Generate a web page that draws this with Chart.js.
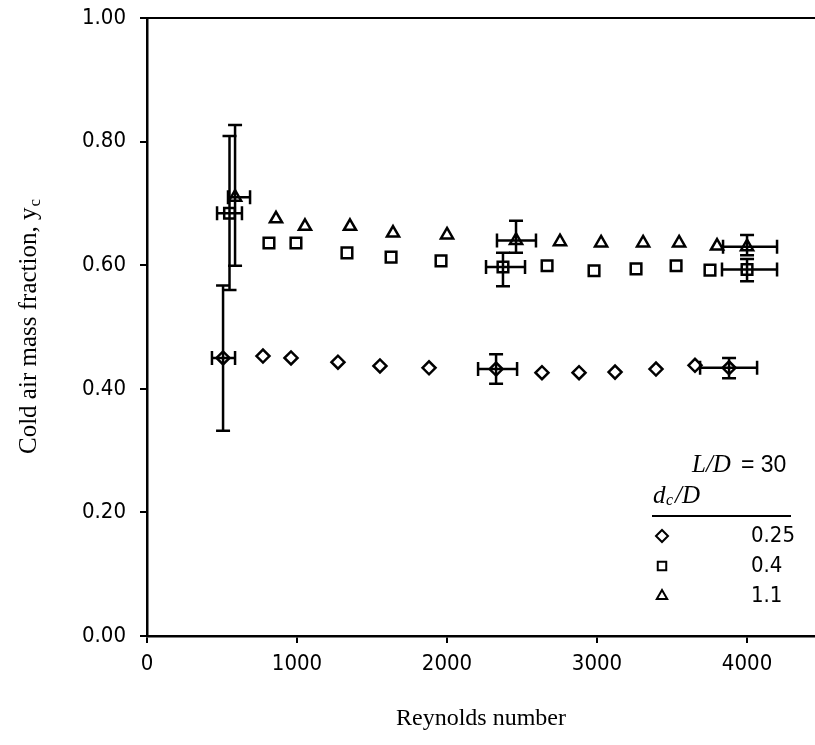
<!DOCTYPE html>
<html>
<head>
<meta charset="utf-8">
<script src="https://cdn.jsdelivr.net/npm/chart.js@4.4.0/dist/chart.umd.min.js"></script>
<style>
  html, body { margin: 0; padding: 0; background: #fff; }
  #wrap { width: 815px; height: 745px; position: relative; }
</style>
</head>
<body>
<div id="wrap"><canvas id="chart"></canvas></div>
<script>
// d_c/D = 0.25 (diamonds)
const diaRe = [507, 773, 960, 1273, 1553, 1880, 2327, 2633, 2880, 3120, 3393, 3653, 3880];
const diaYc = [0.450, 0.453, 0.450, 0.443, 0.437, 0.434, 0.432, 0.426, 0.426, 0.427, 0.432, 0.438, 0.434];
// d_c/D = 0.4 (squares)
const sqRe = [550, 813, 993, 1333, 1627, 1960, 2373, 2667, 2980, 3260, 3527, 3753, 4000];
const sqYc = [0.684, 0.636, 0.636, 0.620, 0.613, 0.607, 0.597, 0.599, 0.591, 0.594, 0.599, 0.592, 0.593];
// d_c/D = 1.1 (triangles)
const triRe = [587, 860, 1053, 1353, 1640, 2000, 2460, 2753, 3027, 3307, 3547, 3800, 4000];
const triYc = [0.710, 0.675, 0.663, 0.663, 0.652, 0.649, 0.640, 0.638, 0.636, 0.636, 0.636, 0.631, 0.630];

// error bars: centre, Re range, yc range
const diaErrRe = [507, 2327, 3880];
const diaErrYc = [0.450, 0.432, 0.434];
const diaErrReLo = [433, 2207, 3687];
const diaErrReHi = [587, 2467, 4067];
const diaErrYcLo = [0.332, 0.408, 0.417];
const diaErrYcHi = [0.567, 0.456, 0.450];

const sqErrRe = [550, 2373, 4000];
const sqErrYc = [0.684, 0.597, 0.593];
const sqErrReLo = [467, 2260, 3833];
const sqErrReHi = [633, 2520, 4200];
const sqErrYcLo = [0.560, 0.566, 0.574];
const sqErrYcHi = [0.809, 0.620, 0.610];

const triErrRe = [587, 2460, 4000];
const triErrYc = [0.710, 0.640, 0.630];
const triErrReLo = [540, 2333, 3840];
const triErrReHi = [687, 2593, 4200];
const triErrYcLo = [0.599, 0.620, 0.616];
const triErrYcHi = [0.827, 0.672, 0.649];

const xTicks = [0, 1000, 2000, 3000, 4000];
const yTicks = [0, 0.2, 0.4, 0.6, 0.8, 1.0];
const legendLabels = ['0.25', '0.4', '1.1'];
const legendStyles = ['rectRot', 'rect', 'triangle'];

const toPts = (xs, ys) => xs.map((x, i) => ({ x: x, y: ys[i] }));

const errSets = [
    { re: diaErrRe, yc: diaErrYc, reLo: diaErrReLo, reHi: diaErrReHi, ycLo: diaErrYcLo, ycHi: diaErrYcHi },
    { re: sqErrRe, yc: sqErrYc, reLo: sqErrReLo, reHi: sqErrReHi, ycLo: sqErrYcLo, ycHi: sqErrYcHi },
    { re: triErrRe, yc: triErrYc, reLo: triErrReLo, reHi: triErrReHi, ycLo: triErrYcLo, ycHi: triErrYcHi },
];

const tickFont = { family: '"Liberation Sans Narrow", "DejaVu Sans Condensed", Arial', size: 22 };
const serif = '"Liberation Serif", "DejaVu Serif", serif';

// error bars + frame line on top + axis title with subscript + legend
const extras = {
    id: 'extras',
    afterDatasetsDraw(chart) {
        const { ctx, chartArea, scales: { x, y } } = chart;
        ctx.save();
        ctx.strokeStyle = '#000';
        ctx.lineWidth = 2.5;
        const cap = 7;
        errSets.forEach(s => {
            s.re.forEach((re, i) => {
                const px = x.getPixelForValue(re);
                const py = y.getPixelForValue(s.yc[i]);
                const x0 = x.getPixelForValue(s.reLo[i]);
                const x1 = x.getPixelForValue(s.reHi[i]);
                const y0 = y.getPixelForValue(s.ycLo[i]);
                const y1 = y.getPixelForValue(s.ycHi[i]);
                ctx.beginPath();
                ctx.moveTo(x0, py); ctx.lineTo(x1, py);
                ctx.moveTo(x0, py - cap); ctx.lineTo(x0, py + cap);
                ctx.moveTo(x1, py - cap); ctx.lineTo(x1, py + cap);
                ctx.moveTo(px, y0); ctx.lineTo(px, y1);
                ctx.moveTo(px - cap, y0); ctx.lineTo(px + cap, y0);
                ctx.moveTo(px - cap, y1); ctx.lineTo(px + cap, y1);
                ctx.stroke();
            });
        });

        // top frame line
        ctx.lineWidth = 2;
        ctx.beginPath();
        ctx.moveTo(chartArea.left - 7, chartArea.top);
        ctx.lineTo(chart.width, chartArea.top);
        ctx.stroke();

        // y axis title
        ctx.fillStyle = '#000';
        ctx.translate(29, (chartArea.top + chartArea.bottom) / 2);
        ctx.rotate(-Math.PI / 2);
        ctx.textBaseline = 'middle';
        const main = 'Cold air mass fraction, y';
        ctx.font = '25px ' + serif;
        const w1 = ctx.measureText(main).width;
        ctx.font = '17px ' + serif;
        const w2 = ctx.measureText('c').width;
        const start = -(w1 + w2) / 2;
        ctx.font = '25px ' + serif;
        ctx.textAlign = 'left';
        ctx.fillText(main, start, 0);
        ctx.font = '17px ' + serif;
        ctx.fillText('c', start + w1 + 1, 7);
        ctx.restore();

        // legend
        ctx.save();
        ctx.fillStyle = '#000';
        ctx.textBaseline = 'middle';
        ctx.textAlign = 'left';
        ctx.font = 'italic 25px ' + serif;
        ctx.fillText('L/D', 692, 465);
        ctx.font = '23px "Liberation Sans", Arial';
        ctx.fillText('= 30', 741, 466);
        ctx.font = 'italic 25px ' + serif;
        ctx.fillText('d', 653, 496);
        ctx.font = 'italic 16px ' + serif;
        ctx.fillText('c', 666, 501);
        ctx.font = 'italic 25px ' + serif;
        ctx.fillText('/D', 675, 496);
        ctx.lineWidth = 2;
        ctx.beginPath();
        ctx.moveTo(652, 516); ctx.lineTo(791, 516);
        ctx.stroke();
        legendLabels.forEach((lab, i) => {
            const ly = 536 + i * 30;
            ctx.lineWidth = 2;
            ctx.strokeStyle = '#000';
            ctx.fillStyle = '#fff';
            Chart.helpers.drawPoint(ctx, { pointStyle: legendStyles[i], rotation: 0, borderWidth: 2, radius: 6 }, 662, ly);
            ctx.fillStyle = '#000';
            ctx.font = tickFont.size + 'px ' + tickFont.family;
            ctx.fillText(lab, 751, ly);
        });
        ctx.restore();
    }
};

const markerBase = {
    showLine: false,
    pointBackgroundColor: '#fff',
    pointBorderColor: '#000',
    pointBorderWidth: 2.5,
    pointHoverRadius: 7,
};

new Chart(document.getElementById('chart'), {
    type: 'scatter',
    data: {
        datasets: [
            Object.assign({ label: '0.25', data: toPts(diaRe, diaYc), pointStyle: 'rectRot', pointRadius: 6.5 }, markerBase),
            Object.assign({ label: '0.4', data: toPts(sqRe, sqYc), pointStyle: 'rect', pointRadius: 7.5 }, markerBase),
            Object.assign({ label: '1.1', data: toPts(triRe, triYc), pointStyle: 'triangle', pointRadius: 7 }, markerBase),
        ]
    },
    options: {
        responsive: true,
        maintainAspectRatio: false,
        animation: false,
        layout: { autoPadding: false, padding: { top: 18, right: 0, left: 0, bottom: 0 } },
        plugins: {
            legend: { display: false },
            tooltip: { enabled: false },
        },
        scales: {
            x: {
                type: 'linear',
                min: 0,
                max: 4453,
                afterFit: (s) => {
                    s.height = 109;
                    s.paddingLeft = 0;
                    s.paddingRight = 0;
                },
                afterBuildTicks: (s) => { s.ticks = xTicks.map(v => ({ value: v })); },
                ticks: { font: tickFont, color: '#000', padding: 8, includeBounds: false, callback: (v) => String(v) },
                grid: { display: true, drawOnChartArea: false, drawTicks: true, tickLength: 7, color: '#000', lineWidth: 2 },
                border: { display: true, color: '#000', width: 2.5 },
                title: {
                    display: true,
                    text: 'Reynolds number',
                    font: { family: serif, size: 24 },
                    color: '#000',
                    padding: { top: 6, bottom: 12 },
                },
            },
            y: {
                type: 'linear',
                min: 0,
                max: 1,
                afterFit: (s) => {
                    s.width = 147;
                    s.paddingTop = 0;
                    s.paddingBottom = 0;
                },
                afterBuildTicks: (s) => { s.ticks = yTicks.map(v => ({ value: v })); },
                ticks: { font: tickFont, color: '#000', padding: 14, callback: (v) => v.toFixed(2) },
                grid: { display: true, drawOnChartArea: false, drawTicks: true, tickLength: 7, color: '#000', lineWidth: 2 },
                border: { display: true, color: '#000', width: 2.5 },
            }
        }
    },
    plugins: [extras]
});
</script>
</body>
</html>
